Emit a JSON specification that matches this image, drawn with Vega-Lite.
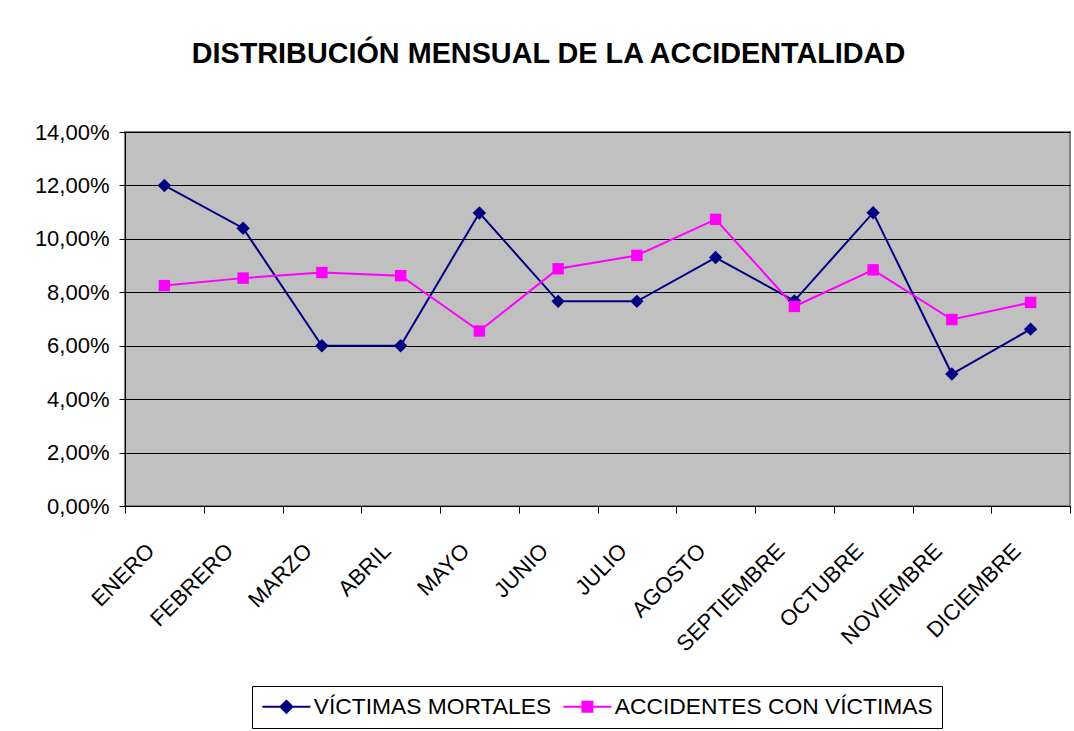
{
  "$schema": "https://vega.github.io/schema/vega-lite/v6.json",
  "width": 945,
  "height": 374,
  "autosize": {"type": "none"},
  "padding": {"left": 125, "top": 132, "right": 4, "bottom": 225},
  "background": "white",
  "title": {
    "text": "DISTRIBUCIÓN MENSUAL DE LA ACCIDENTALIDAD",
    "font": "Liberation Sans",
    "fontSize": 28.8,
    "fontWeight": "bold",
    "color": "black",
    "anchor": "middle",
    "frame": "bounds",
    "offset": 52,
    "dx": -4
  },
  "data": {
    "values": [
      {"mes": "ENERO", "serie": "VÍCTIMAS MORTALES", "valor": 0.1200},
      {"mes": "FEBRERO", "serie": "VÍCTIMAS MORTALES", "valor": 0.1040},
      {"mes": "MARZO", "serie": "VÍCTIMAS MORTALES", "valor": 0.0600},
      {"mes": "ABRIL", "serie": "VÍCTIMAS MORTALES", "valor": 0.0600},
      {"mes": "MAYO", "serie": "VÍCTIMAS MORTALES", "valor": 0.1097},
      {"mes": "JUNIO", "serie": "VÍCTIMAS MORTALES", "valor": 0.0766},
      {"mes": "JULIO", "serie": "VÍCTIMAS MORTALES", "valor": 0.0766},
      {"mes": "AGOSTO", "serie": "VÍCTIMAS MORTALES", "valor": 0.0930},
      {"mes": "SEPTIEMBRE", "serie": "VÍCTIMAS MORTALES", "valor": 0.0768},
      {"mes": "OCTUBRE", "serie": "VÍCTIMAS MORTALES", "valor": 0.1098},
      {"mes": "NOVIEMBRE", "serie": "VÍCTIMAS MORTALES", "valor": 0.0494},
      {"mes": "DICIEMBRE", "serie": "VÍCTIMAS MORTALES", "valor": 0.0662},
      {"mes": "ENERO", "serie": "ACCIDENTES CON VÍCTIMAS", "valor": 0.0825},
      {"mes": "FEBRERO", "serie": "ACCIDENTES CON VÍCTIMAS", "valor": 0.0853},
      {"mes": "MARZO", "serie": "ACCIDENTES CON VÍCTIMAS", "valor": 0.0874},
      {"mes": "ABRIL", "serie": "ACCIDENTES CON VÍCTIMAS", "valor": 0.0862},
      {"mes": "MAYO", "serie": "ACCIDENTES CON VÍCTIMAS", "valor": 0.0655},
      {"mes": "JUNIO", "serie": "ACCIDENTES CON VÍCTIMAS", "valor": 0.0888},
      {"mes": "JULIO", "serie": "ACCIDENTES CON VÍCTIMAS", "valor": 0.0938},
      {"mes": "AGOSTO", "serie": "ACCIDENTES CON VÍCTIMAS", "valor": 0.1073},
      {"mes": "SEPTIEMBRE", "serie": "ACCIDENTES CON VÍCTIMAS", "valor": 0.0747},
      {"mes": "OCTUBRE", "serie": "ACCIDENTES CON VÍCTIMAS", "valor": 0.0884},
      {"mes": "NOVIEMBRE", "serie": "ACCIDENTES CON VÍCTIMAS", "valor": 0.0698},
      {"mes": "DICIEMBRE", "serie": "ACCIDENTES CON VÍCTIMAS", "valor": 0.0762}
    ]
  },
  "encoding": {
    "x": {
      "field": "mes",
      "type": "ordinal",
      "bandPosition": 0.5,
      "sort": ["ENERO", "FEBRERO", "MARZO", "ABRIL", "MAYO", "JUNIO", "JULIO", "AGOSTO", "SEPTIEMBRE", "OCTUBRE", "NOVIEMBRE", "DICIEMBRE"],
      "scale": {"type": "band", "paddingInner": 0, "paddingOuter": 0},
      "axis": {
        "title": null,
        "tickBand": "extent",
        "labelAngle": -45,
        "labelAlign": "right",
        "labelBaseline": "middle",
        "labelFont": "Liberation Sans",
        "labelFontSize": 22,
        "labelColor": "black",
        "labelPadding": 34,
        "labelDx": -16,
        "labelDy": -16,
        "labelOffset": -14,
        "tickSize": 7,
        "tickColor": "black",
        "domainColor": "black",
        "grid": false
      }
    },
    "y": {
      "field": "valor",
      "type": "quantitative",
      "scale": {"domain": [0, 0.14], "nice": false},
      "axis": {
        "title": null,
        "values": [0, 0.02, 0.04, 0.06, 0.08, 0.1, 0.12, 0.14],
        "labelExpr": "replace(format(datum.value, '.2%'), '.', ',')",
        "labelFont": "Liberation Sans",
        "labelFontSize": 22,
        "labelColor": "black",
        "labelPadding": 10,
        "tickSize": 6,
        "tickColor": "black",
        "domainColor": "black",
        "grid": true,
        "gridColor": "black",
        "gridOpacity": 1,
        "gridWidth": 1
      }
    },
    "color": {
      "field": "serie",
      "type": "nominal",
      "scale": {"domain": ["VÍCTIMAS MORTALES", "ACCIDENTES CON VÍCTIMAS"], "range": ["#000080", "#FF00FF"]},
      "legend": {
        "title": null,
        "orient": "none",
        "legendX": 127,
        "legendY": 554,
        "direction": "horizontal",
        "columns": 2,
        "labelFont": "Liberation Sans",
        "labelFontSize": 22.8,
        "labelColor": "black",
        "labelLimit": 400,
        "strokeColor": "black",
        "fillColor": "white",
        "padding": 9,
        "symbolSize": 400,
        "symbolOffset": 14,
        "labelOffset": 16,
        "columnPadding": 7,
        "symbolStrokeWidth": 2,
        "encode": {
          "symbols": {
            "update": {
              "shape": {"signal": "datum.value === 'VÍCTIMAS MORTALES' ? 'M-2.4,0L2.4,0M0,-0.6L0.6,0L0,0.6L-0.6,0Z' : 'M-2.4,0L2.4,0M-0.5,-0.5L0.5,-0.5L0.5,0.5L-0.5,0.5Z'"}
            }
          }
        }
      }
    }
  },
  "layer": [
    {
      "mark": {"type": "line", "strokeWidth": 2},
      "encoding": {}
    },
    {
      "transform": [{"filter": "datum.serie === 'VÍCTIMAS MORTALES'"}],
      "mark": {"type": "point", "shape": "diamond", "filled": true, "opacity": 1, "size": 180},
      "encoding": {}
    },
    {
      "transform": [{"filter": "datum.serie === 'ACCIDENTES CON VÍCTIMAS'"}],
      "mark": {"type": "point", "shape": "square", "filled": true, "opacity": 1, "size": 130},
      "encoding": {}
    }
  ],
  "config": {
    "view": {"fill": "#C0C0C0", "stroke": "#808080", "strokeWidth": 2}
  }
}
